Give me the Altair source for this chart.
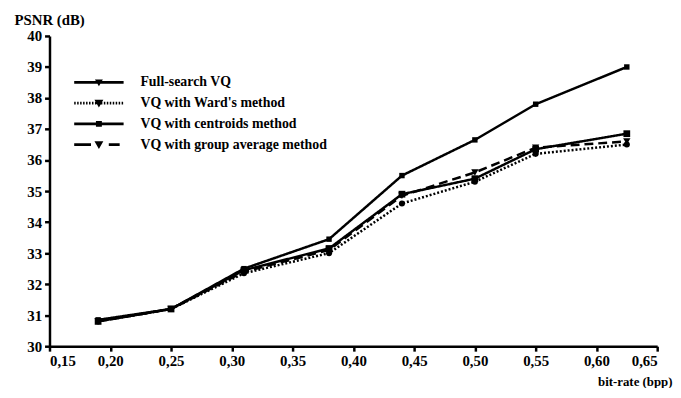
import altair as alt
import pandas as pd

bit_rate = [0.19, 0.25, 0.31, 0.38, 0.44, 0.50, 0.55, 0.625]
full_search = [30.85, 31.2, 32.5, 33.45, 35.5, 36.65, 37.8, 39.0]
ward = [30.8, 31.2, 32.35, 33.0, 34.6, 35.3, 36.2, 36.5]
centroids = [30.8, 31.2, 32.45, 33.15, 34.9, 35.4, 36.35, 36.85]
group_avg = [30.8, 31.2, 32.4, 33.1, 34.85, 35.6, 36.4, 36.6]

series_names = [
    "Full-search VQ",
    "VQ with Ward's method",
    "VQ with centroids method",
    "VQ with group average method",
]
x_ticks = [0.15, 0.20, 0.25, 0.30, 0.35, 0.40, 0.45, 0.50, 0.55, 0.60, 0.65]
y_ticks = [30, 31, 32, 33, 34, 35, 36, 37, 38, 39, 40]

rows = []
for name, vals in zip(series_names, [full_search, ward, centroids, group_avg]):
    for xv, yv in zip(bit_rate, vals):
        rows.append({"series": name, "x": xv, "y": yv})
df = pd.DataFrame(rows)

FONT = "Liberation Serif"

# legend symbol paths (line + marker); unit = 10 px at symbolSize 400
def rect(x0, x1, h):
    return f"M{x0:.3f},{-h:.3f}H{x1:.3f}V{h:.3f}H{x0:.3f}Z"

lw = 0.13
c = 1.5
tri_s = f"M{c-0.4:.2f},-0.3H{c+0.4:.2f}L{c:.2f},0.4Z"
tri_l = f"M{c-0.45:.2f},-0.35H{c+0.45:.2f}L{c:.2f},0.45Z"
sq = rect(c - 0.3, c + 0.3, 0.3)
p_full = rect(-1, 4, lw) + tri_s
dots = "".join(rect(-1 + i * 0.3, -1 + i * 0.3 + 0.15, lw) for i in range(17))
p_ward = dots + tri_l
p_cent = rect(-1, 4, lw) + sq
p_grp = rect(-1, 0.7, lw) + tri_l + rect(2.5, 3.6, lw)

x_enc = alt.X(
    "x:Q",
    scale=alt.Scale(domain=[0.15, 0.65], nice=False, zero=False),
    axis=alt.Axis(
        values=x_ticks,
        tickCount=20,
        labelExpr="replace(format(datum.value, '.2f'), '.', ',')",
        labelOverlap=False,
        title="bit-rate (bpp)",
        titleAlign="right",
        titleAnchor="end",
        titleX=630,
        titleY=40,
        titleFontSize=13,
        titleBaseline="alphabetic",
    ),
)
y_enc = alt.Y(
    "y:Q",
    scale=alt.Scale(domain=[30, 40], nice=False, zero=False),
    axis=alt.Axis(
        values=y_ticks,
        tickCount=20,
        format="d",
        labelOverlap=False,
        title="PSNR (dB)",
        titleAngle=0,
        titleAlign="left",
        titleX=-36,
        titleY=-12,
        titleBaseline="alphabetic",
        titleFontSize=15,
    ),
)

lines = alt.Chart(df).mark_line(color="black", strokeWidth=2.5).encode(
    x=x_enc,
    y=y_enc,
    strokeDash=alt.StrokeDash(
        "series:N",
        scale=alt.Scale(domain=series_names, range=[[1, 0], [2, 2], [1, 0], [9, 5]]),
        legend=None,
    ),
    detail="series:N",
)

points = alt.Chart(df).mark_point(filled=True, color="black", opacity=1).encode(
    x=x_enc,
    y=y_enc,
    shape=alt.Shape(
        "series:N",
        scale=alt.Scale(domain=series_names, range=["square", "circle", "square", "triangle-down"]),
        legend=None,
    ),
    size=alt.Size(
        "series:N",
        scale=alt.Scale(domain=series_names, range=[30, 55, 40, 50]),
        legend=None,
    ),
)

legend_layer = alt.Chart(df).mark_point(filled=True, color="black", opacity=0).encode(
    x=x_enc,
    y=y_enc,
    shape=alt.Shape(
        "series:N",
        scale=alt.Scale(domain=series_names, range=[p_full, p_ward, p_cent, p_grp]),
        legend=alt.Legend(
            title=None,
            orient="none",
            legendX=25,
            legendY=37,
            symbolSize=400,
            symbolOpacity=1,
            symbolFillColor="black",
            symbolStrokeWidth=0,
            labelFont=FONT,
            labelFontWeight="bold",
            labelFontSize=14,
            labelColor="black",
            labelOffset=47,
            labelLimit=400,
            rowPadding=4,
        ),
    ),
)

chart = (
    alt.layer(lines, points, legend_layer)
    .resolve_scale(shape="independent", size="independent")
    .properties(
        width=615,
        height=314,
        autosize=alt.AutoSizeParams(type="none"),
        padding={"left": 42, "top": 26, "right": 16, "bottom": 40},
        background="white",
    )
    .configure_view(stroke=None)
    .configure_axis(
        grid=False,
        domainColor="black",
        domainWidth=2.5,
        tickColor="black",
        tickWidth=2.5,
        tickSize=5,
        labelFont=FONT,
        labelFontWeight="bold",
        labelFontSize=15,
        labelColor="black",
        titleFont=FONT,
        titleFontWeight="bold",
        titleColor="black",
        labelPadding=3,
    )
)

chart.save("out.html", embed_options={"renderer": "svg", "actions": False})
